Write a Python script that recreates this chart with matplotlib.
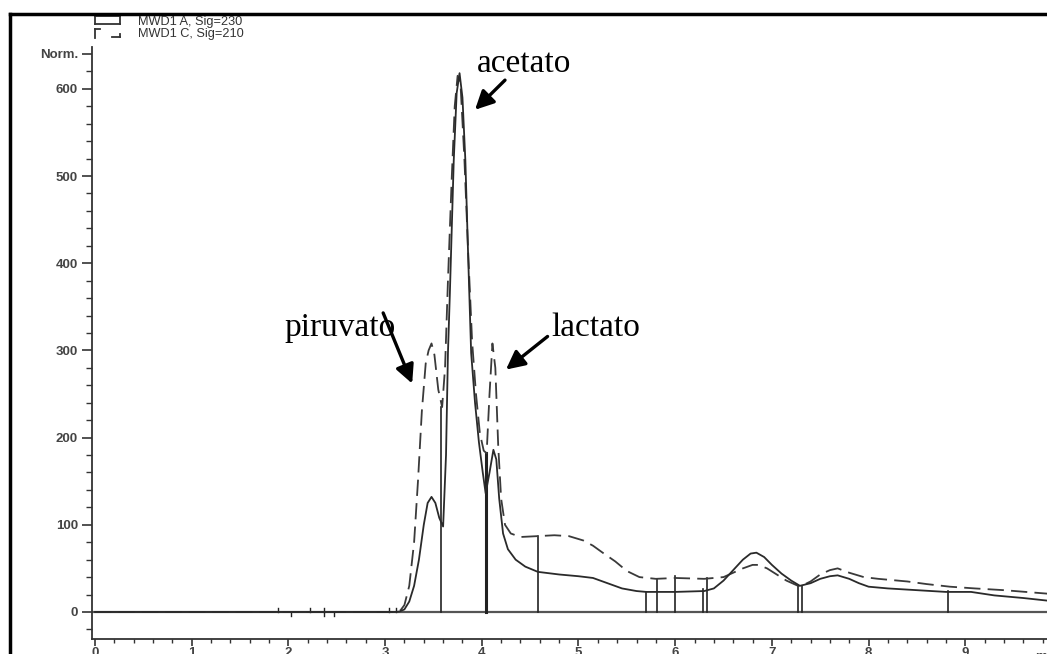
import matplotlib
matplotlib.use("Agg")
import matplotlib.pyplot as plt
from matplotlib.lines import Line2D

# ---- data ----
t_a = [0.0, 3.10, 3.15, 3.20, 3.25, 3.30, 3.35, 3.40, 3.44, 3.48, 3.52, 3.56, 3.60,
       3.63, 3.65, 3.67, 3.71, 3.74, 3.77, 3.80, 3.83, 3.86, 3.89, 3.93, 3.97, 4.01,
       4.04, 4.08, 4.12, 4.15, 4.18, 4.22, 4.27, 4.35, 4.45, 4.58, 4.80, 5.00, 5.15,
       5.30, 5.45, 5.60, 5.70, 6.00, 6.30, 6.40, 6.50, 6.60, 6.70, 6.78, 6.84, 6.92,
       7.00, 7.10, 7.20, 7.29, 7.40, 7.50, 7.60, 7.68, 7.80, 7.90, 8.00, 8.20, 8.50,
       8.80, 9.06, 9.30, 9.60, 9.85]
sig_a = [0, 0, 0.5, 3, 12, 30, 60, 100, 125, 132, 125, 108, 98,
         180, 297, 366, 518, 595, 618, 590, 518, 404, 297, 240, 195, 160,
         136, 160, 186, 175, 130, 90, 72, 60, 52, 46, 43, 41, 39,
         33, 27, 24, 23, 23, 24, 27, 36, 48, 60, 67, 68, 63,
         54, 44, 36, 30, 33, 38, 41, 42, 38, 33, 29, 27, 25,
         23, 23, 19, 16, 13]

t_c = [0.0, 3.12, 3.16, 3.20, 3.25, 3.30, 3.34, 3.38, 3.42, 3.45, 3.48, 3.51, 3.55,
       3.59, 3.62, 3.65, 3.69, 3.72, 3.75, 3.78, 3.82, 3.86, 3.90, 3.94, 3.98, 4.02,
       4.05, 4.08, 4.11, 4.14, 4.17, 4.20, 4.24, 4.30, 4.40, 4.58, 4.75, 4.90, 5.05,
       5.15, 5.25, 5.38, 5.50, 5.63, 5.80, 6.00, 6.30, 6.50, 6.60, 6.70, 6.80, 6.86,
       6.95, 7.05, 7.15, 7.29, 7.40, 7.50, 7.60, 7.68, 7.80, 7.95, 8.10, 8.40, 8.60,
       8.84, 9.10, 9.40, 9.85]
sig_c = [0, 0, 2, 8, 30, 80, 150, 230, 285, 300, 308, 295, 255,
         235, 280, 380, 500, 580, 615, 605, 520, 410, 310, 250, 205, 185,
         182, 250, 308, 280, 190, 130, 100, 90, 86, 87, 88, 87, 82,
         76, 68, 58, 47, 40, 38, 39, 38, 40, 45, 50, 54, 54,
         50, 43, 36, 29, 35, 43, 48, 50, 45, 40, 38, 35, 32,
         29, 27, 25, 21]

# integration markers (time, height)
mark_t = [3.58, 4.04, 4.58, 5.70, 5.81, 6.00, 6.29, 6.33, 7.27, 7.31, 8.82]
mark_h = [235, 182, 87, 23, 38, 41, 26, 39, 30, 30, 24]
mark_w = [1.2, 2.2, 1.2, 1.2, 1.2, 1.2, 1.2, 1.2, 1.2, 1.2, 1.2]

# small event ticks on the baseline
evt_up = [1.89, 2.22, 2.37, 3.04, 3.11]
evt_down = [2.03, 2.37, 2.47]

legend_labels = ["MWD1 A, Sig=230", "MWD1 C, Sig=210"]
peak_names = ["piruvato", "acetato", "lactato"]
label_xy = [(2.53, 316), (4.44, 619), (5.18, 316)]
arrow_tail = [(2.98, 343), (4.24, 610), (4.68, 316)]
arrow_head = [(3.28, 262), (3.93, 576), (4.25, 278)]

x_major = list(range(0, 10))
y_major = [0, 100, 200, 300, 400, 500, 600, 640]
y_major_labels = ["0", "100", "200", "300", "400", "500", "600", "Norm."]

# ---- figure ----
W, H = 1047, 654
fig = plt.figure(figsize=(W / 100, H / 100), dpi=100)
fig.patch.set_facecolor("white")

ax = fig.add_axes([92 / W, 15 / H, 955 / W, 592 / H])
ax.set_xlim(-0.031, 9.845)
ax.set_ylim(-31, 648)

ax.axhline(0, color="#555555", lw=1.6, zorder=1)
ax.plot(t_c, sig_c, color="#3a3a3a", lw=1.3, dashes=(9, 4), zorder=3)
ax.plot(t_a, sig_a, color="#2a2a2a", lw=1.3, zorder=4)
for x, h, w in zip(mark_t, mark_h, mark_w):
    ax.plot([x, x], [0, h], color="#222222", lw=w, zorder=2)
for x in evt_up:
    ax.plot([x, x], [0, 5], color="#222222", lw=1.0)
for x in evt_down:
    ax.plot([x, x], [0, -5], color="#222222", lw=1.0)

# spines and ticks
for s in ["top", "right"]:
    ax.spines[s].set_visible(False)
for s in ["left", "bottom"]:
    ax.spines[s].set_color("#333333")
    ax.spines[s].set_linewidth(1.3)

tick_font = dict(family="Liberation Sans", size=9.5, weight="bold")
ax.set_yticks(y_major)
ax.set_yticklabels(y_major_labels, color="#444444", fontdict=tick_font)
ax.set_yticks([v for v in range(-20, 641, 20) if v not in y_major], minor=True)
ax.set_xticks(x_major)
ax.set_xticklabels([str(v) for v in x_major], color="#444444", fontdict=tick_font)
ax.set_xticks([v / 10 for v in range(0, 99, 2) if v % 10 != 0], minor=True)
ax.tick_params(axis="y", which="major", length=7, width=1.2, color="#333333", pad=3)
ax.tick_params(axis="y", which="minor", length=4, width=1.0, color="#333333")
ax.tick_params(axis="x", which="major", length=5, width=1.2, color="#333333", pad=1)
ax.tick_params(axis="x", which="minor", length=3, width=1.0, color="#333333")
ax.text(9.72, -0.02, "min", transform=ax.get_xaxis_transform(), ha="left", va="top",
        color="#444444", fontdict=tick_font, clip_on=False)

# annotations
for name, (lx, ly), tail, head in zip(peak_names, label_xy, arrow_tail, arrow_head):
    ax.text(lx, ly, name, family="Liberation Serif", fontsize=24, ha="center",
            va="baseline", color="black")
    ax.annotate("", xy=head, xytext=tail,
                arrowprops=dict(arrowstyle="-|>", lw=2.4, color="black",
                                mutation_scale=28, shrinkA=0, shrinkB=0))

# legend (drawn in figure pixel coordinates)
def fx(px):
    return px / W

def fy(py):
    return (H - py) / H

def seg(x0, y0, x1, y1):
    fig.add_artist(Line2D([fx(x0), fx(x1)], [fy(y0), fy(y1)], color="#333333", lw=1.3,
                          transform=fig.transFigure))

# solid icon: open box
seg(95, 16, 120, 16)
seg(95, 16, 95, 24)
seg(120, 16, 120, 24)
seg(95, 24, 120, 24)
# dashed icon: broken box
seg(95, 29, 100, 29)
seg(95, 29, 95, 38)
seg(112, 37, 120, 37)
seg(120, 37, 120, 34)

for i, lab in enumerate(legend_labels):
    fig.text(fx(138), fy(22.5 + 11.5 * i), lab, family="Liberation Sans", fontsize=9.2,
             color="#333333", va="center", ha="left")

# outer frame (top and left edges)
fig.add_artist(Line2D([fx(10), 1.0], [fy(14), fy(14)], color="black", lw=2.5,
                      transform=fig.transFigure))
fig.add_artist(Line2D([fx(10), fx(10)], [fy(14), 0.0], color="black", lw=2.5,
                      transform=fig.transFigure))

fig.savefig("out.png", dpi=100)
